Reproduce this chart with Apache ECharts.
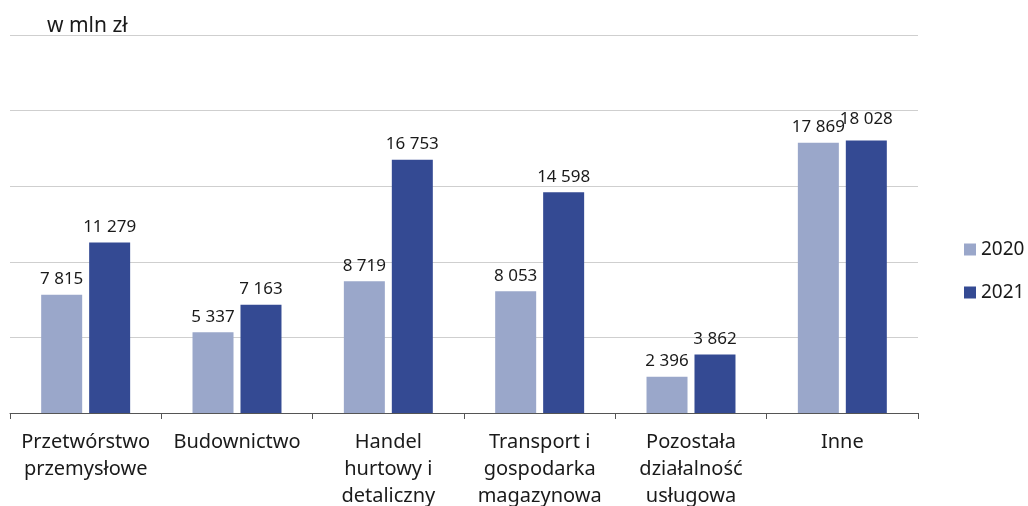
<!DOCTYPE html>
<html><head><meta charset="utf-8">
<script src="https://cdn.jsdelivr.net/npm/echarts@6/dist/echarts.min.js"></script>
<style>html,body{margin:0;padding:0;background:#fff}#c{width:1028px;height:506px}</style>
</head><body><div id="c"></div>
<script>
const categories = ["Przetwórstwo\nprzemysłowe","Budownictwo","Handel\nhurtowy i\ndetaliczny","Transport i\ngospodarka\nmagazynowa","Pozostała\ndziałalność\nusługowa","Inne"];
const values2020 = [7815, 5337, 8719, 8053, 2396, 17869];
const values2021 = [11279, 7163, 16753, 14598, 3862, 18028];
const seriesNames = ["2020","2021"];
const unitLabel = "w mln zł";

const fmt = v => String(v).replace(/\B(?=(\d{3})+(?!\d))/g, " ");
const font = "Noto Sans";
const chart = echarts.init(document.getElementById('c'));
const lbl = {show:true, position:'top', distance:7, color:'#1a1a1a', fontSize:17, fontFamily:font, formatter:p=>fmt(p.value)};
// last 2021 label raised slightly to avoid crowding its neighbour, as in the reference
const data2021 = values2021.map((v,i)=> i===values2021.length-1 ? {value:v, label:{distance:13}} : v);
chart.setOption({
  animation:false,
  textStyle:{fontFamily:font},
  title:{text:unitLabel, left:42, top:11, textStyle:{fontSize:21, fontWeight:'normal', color:'#1a1a1a', fontFamily:font}},
  legend:{orient:'vertical', left:959, top:235, itemWidth:12, itemHeight:12, itemGap:24, icon:'rect',
    textStyle:{fontSize:19, color:'#1a1a1a', fontFamily:font}, data:seriesNames},
  grid:{left:10, right:110, top:35, bottom:93, containLabel:false, outerBoundsMode:'none'},
  xAxis:{type:'category', data:categories,
    axisLine:{lineStyle:{color:'#555', width:1}},
    axisTick:{show:true, length:6, lineStyle:{color:'#555'}},
    axisLabel:{interval:0, fontSize:20, lineHeight:27, color:'#1a1a1a', margin:16, fontFamily:font}},
  yAxis:{type:'value', min:0, max:25000, interval:5000, axisLabel:{show:false}, axisLine:{show:false}, axisTick:{show:false},
    splitLine:{lineStyle:{color:'#cfcfcf', width:1}}},
  series:[
    {name:seriesNames[0], type:'bar', data:values2020, barWidth:41, barGap:'17%', itemStyle:{color:'#9AA7CA'}, label:lbl},
    {name:seriesNames[1], type:'bar', data:data2021, barWidth:41, itemStyle:{color:'#344A93'}, label:lbl}
  ]
});
</script></body></html>
